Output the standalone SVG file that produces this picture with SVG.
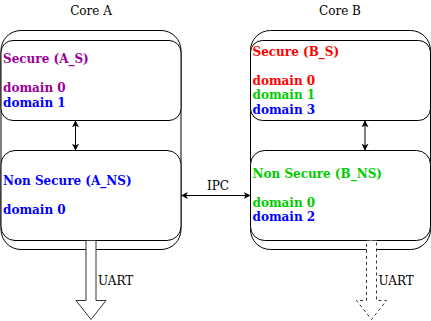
<svg xmlns="http://www.w3.org/2000/svg" width="431" height="321" viewBox="0 0 431 321">
<style>
.box{fill:#fff;stroke:#000;stroke-width:1}
.lbl{font-family:"DejaVu Serif",serif;font-size:12px;fill:#000}
.t{font-family:"DejaVu Serif",serif;font-size:12px;font-weight:bold}
.pu{fill:#990099}.bl{fill:#0000ff}.rd{fill:#ff0000}.gr{fill:#00cc00}
.con{stroke:#000;stroke-width:1;fill:none}
.big{fill:#fff;stroke:#333;stroke-width:1}
</style>
<defs>
<marker id="ah" viewBox="0 0 10 10" refX="9" refY="5" markerWidth="7" markerHeight="7" orient="auto-start-reverse" markerUnits="userSpaceOnUse">
<path d="M0,0 L10,5 L0,10 L2.5,5 z" fill="#000"/>
</marker>
</defs>
<g id="coreA">
<text class="lbl" x="91" y="15" text-anchor="middle">Core A</text>
<rect class="box" x="1" y="30.5" width="180" height="219" rx="20" ry="20"/>
</g>
<g id="coreB">
<text class="lbl" x="340" y="15" text-anchor="middle">Core B</text>
<rect class="box" x="250.5" y="30.5" width="180" height="219" rx="20" ry="20"/>
</g>
<g id="A_S">
<rect class="box" x="1" y="40.5" width="180" height="80" rx="12" ry="12"/>
<text class="t pu" x="3" y="63">Secure (A_S)</text>
<text class="t pu" x="3" y="92">domain 0</text>
<text class="t bl" x="3" y="106.5">domain 1</text>
</g>
<g id="A_NS">
<rect class="box" x="1" y="150.5" width="180" height="90" rx="14" ry="14"/>
<text class="t bl" x="3" y="185">Non Secure (A_NS)</text>
<text class="t bl" x="3" y="213.5">domain 0</text>
</g>
<g id="B_S">
<rect class="box" x="250.5" y="40.5" width="180" height="80" rx="12" ry="12"/>
<text class="t rd" x="252.5" y="55.5">Secure (B_S)</text>
<text class="t rd" x="252.5" y="84.5">domain 0</text>
<text class="t gr" x="252.5" y="99">domain 1</text>
<text class="t bl" x="252.5" y="113.5">domain 3</text>
</g>
<g id="B_NS">
<rect class="box" x="250.5" y="150.5" width="180" height="90" rx="14" ry="14"/>
<text class="t gr" x="252.5" y="177.5">Non Secure (B_NS)</text>
<text class="t gr" x="252.5" y="206.5">domain 0</text>
<text class="t bl" x="252.5" y="221">domain 2</text>
</g>
<g id="uartA">
<polygon class="big" points="86,240.5 96,240.5 96,300.5 106,300.5 91,319.5 76,300.5 86,300.5"/>
<text class="lbl" x="98" y="285">UART</text>
</g>
<g id="uartB">
<polygon class="big" style="stroke-dasharray:3 3" points="366.5,240.5 376.5,240.5 376.5,300.5 386.5,300.5 371.5,319.5 356.5,300.5 366.5,300.5"/>
<text class="lbl" x="378.5" y="285">UART</text>
</g>
<g id="connectors">
<line class="con" x1="75.5" y1="121" x2="75.5" y2="150" marker-start="url(#ah)" marker-end="url(#ah)"/>
<line class="con" x1="365" y1="121" x2="365" y2="150" marker-start="url(#ah)" marker-end="url(#ah)"/>
<line class="con" x1="181.5" y1="195.5" x2="250" y2="195.5" marker-start="url(#ah)" marker-end="url(#ah)"/>
<text class="lbl" x="218" y="190" text-anchor="middle">IPC</text>
</g>
</svg>
